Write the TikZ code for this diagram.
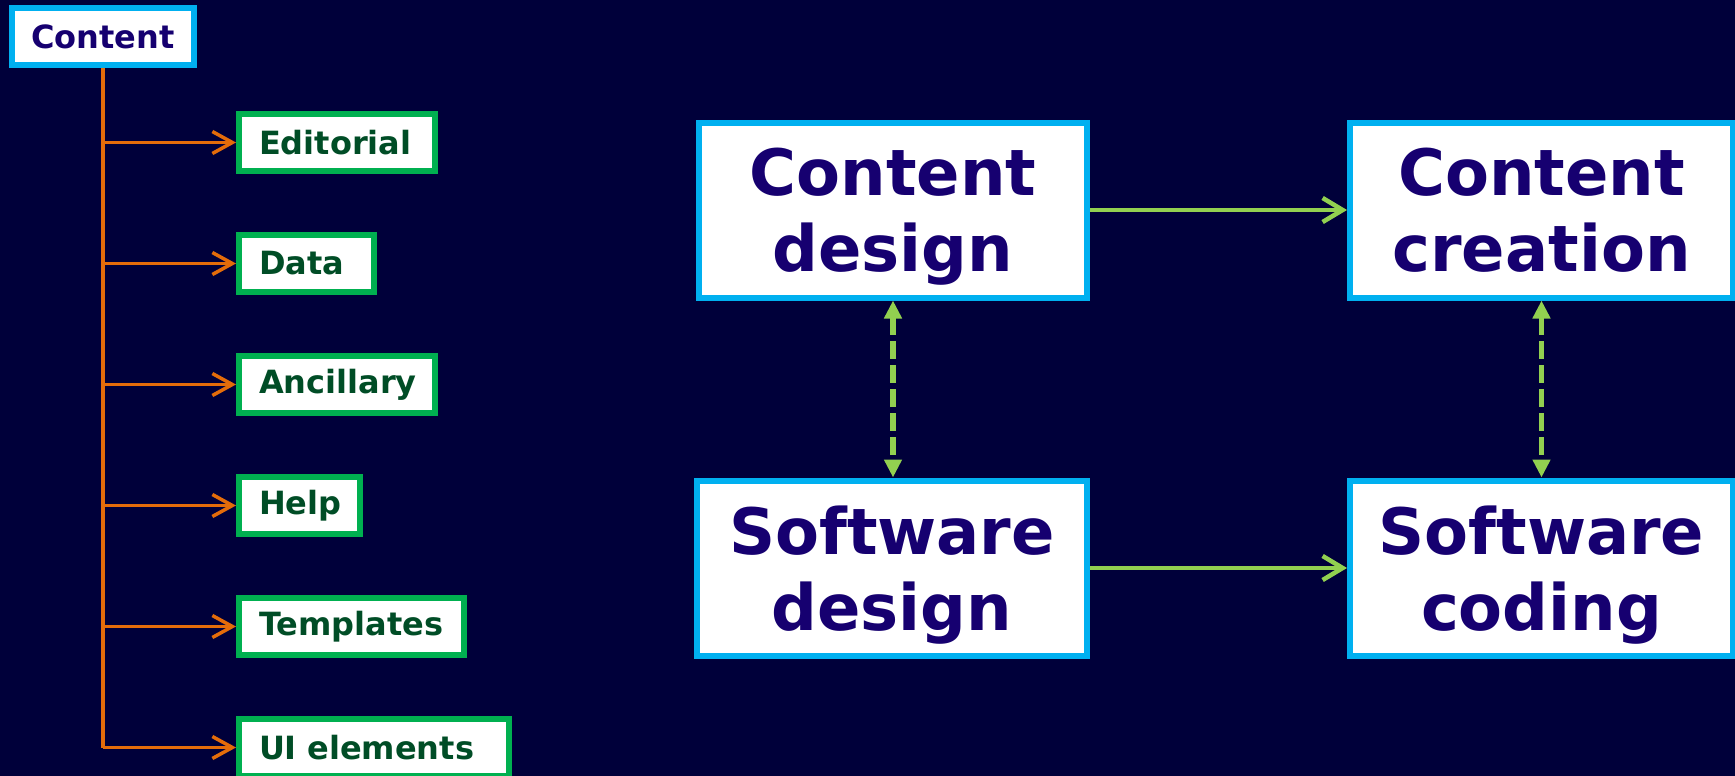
\documentclass[tikz,border=0pt]{standalone}
\usepackage{fontspec}
\setmainfont{DejaVu Sans}
\usetikzlibrary{arrows.meta}
\definecolor{bg}{RGB}{0,0,58}
\definecolor{bluebd}{RGB}{0,176,240}
\definecolor{greenbd}{RGB}{0,176,80}
\definecolor{purpletx}{RGB}{22,0,112}
\definecolor{greentx}{RGB}{0,77,38}
\definecolor{orangeln}{RGB}{228,108,10}
\definecolor{limeln}{RGB}{146,208,80}
\begin{document}
\begin{tikzpicture}[x=1pt,y=-1pt,
  topbox/.style={draw=bluebd, fill=white, line width=6pt, inner sep=0pt, text=purpletx,
    font=\fontsize{32}{38}\selectfont\bfseries, minimum width=182pt, minimum height=57pt},
  itembox/.style={draw=greenbd, fill=white, line width=6pt, inner ysep=0pt, inner xsep=20pt,
    text=greentx, font=\fontsize{32}{38}\selectfont\bfseries, minimum height=57pt,
    anchor=west, align=left, text width=#1},
  bigbox/.style={draw=bluebd, fill=white, line width=6pt, inner sep=0pt, text=purpletx,
    font=\fontsize{64}{76}\selectfont\bfseries, align=center, minimum height=175pt},
  tree/.style={draw=orangeln, line width=3.5pt},
  treearrow/.style={tree, -{Straight Barb[length=20pt,width=22pt]}},
  flow/.style={draw=limeln, line width=4.5pt, -{Straight Barb[length=20pt,width=24pt]}},
  link/.style={draw=limeln, line width=5.5pt, dash pattern=on 18pt off 6pt,
    {Triangle[length=18pt,width=17pt]}-{Triangle[length=18pt,width=17pt]}}
]
\fill[bg] (0,0) rectangle (1735,776);
\useasboundingbox (0,0) rectangle (1735,776);

\node[topbox] (content) at (103,36.5) {Content};
\node[itembox=156pt] (editorial) at (236,142.5) {Editorial};
\node[itembox=95pt] (data) at (236,263.5) {Data};
\node[itembox=156pt] (ancillary) at (236,384.5) {Ancillary};
\node[itembox=81pt] (help) at (236,505.5) {Help};
\node[itembox=185pt] (templates) at (236,626.5) {Templates};
\node[itembox=230pt] (ui) at (236,747.5) {UI elements};

\draw[tree] (content.south) -- (content.south |- ui.west);
\foreach \n in {editorial,data,ancillary,help,templates,ui}
  \draw[treearrow] (content.south |- \n.west) -- (\n.west);

\node[bigbox, minimum width=388pt] (cd) at (893,210) {Content\\\smash{design}};
\node[bigbox, minimum width=383pt] (cc) at (1541.5,210) {Content\\\smash{creation}};
\node[bigbox, minimum width=390pt] (sd) at (892,568) {Software\\\smash{design}};
\node[bigbox, minimum width=383pt] (sc) at (1541.5,568) {Software\\\smash{coding}};

\draw[flow] (cd.east) -- (cc.west);
\draw[flow] (sd.east) -- (sc.west);
\draw[link] (cd.south) -- (cd.south |- sd.north);
\draw[link] (cc.south) -- (cc.south |- sc.north);
\end{tikzpicture}
\end{document}
